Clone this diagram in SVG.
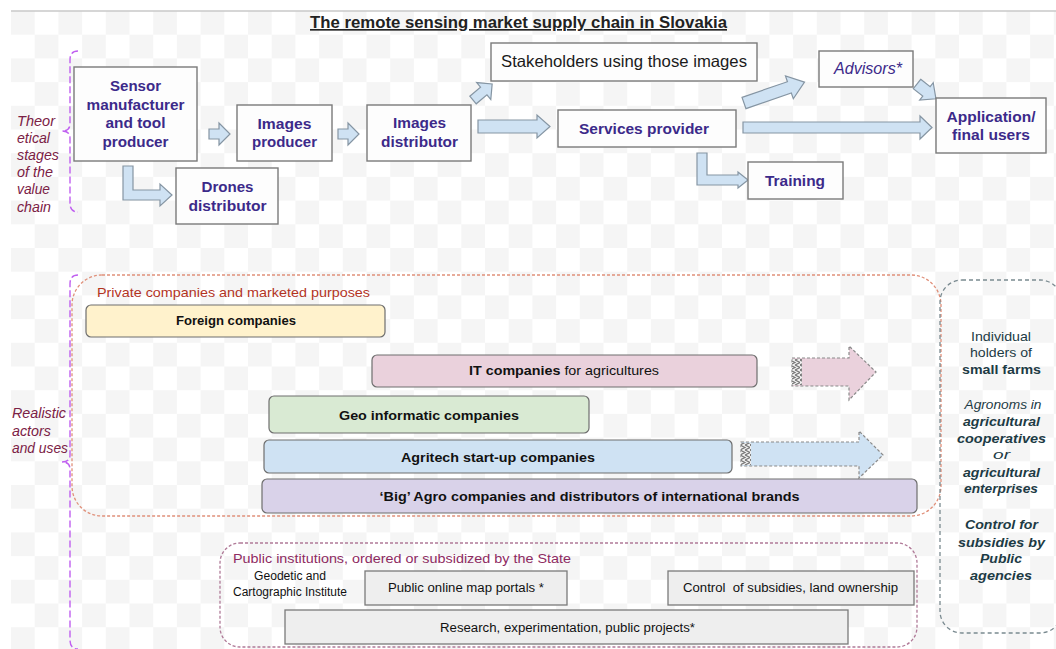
<svg xmlns="http://www.w3.org/2000/svg" width="1056" height="649" viewBox="0 0 1056 649">
<style>
text{font-family:"Liberation Sans",Arial,sans-serif}
.box{fill:#fdfdfd;stroke:#7a7a7a;stroke-width:1.4}
.bt{font-weight:bold;font-size:15.5px;fill:#3c2a8a;text-anchor:middle}
.arr{fill:#cfe2f3;stroke:#8595a3;stroke-width:1.2;stroke-linejoin:miter}
.bar{stroke:#6e6e6e;stroke-width:1.2}
.barT{font-weight:bold;font-size:13px;fill:#111;text-anchor:middle}
.pb{fill:#eeeeee;stroke:#7a7a7a;stroke-width:1.3}
.pt{font-size:12px;fill:#111;text-anchor:middle}
.rt{font-size:13px;fill:#1d3b45;text-anchor:middle}
.lt{font-size:15px;font-style:italic;fill:#7b2145}
.brace{fill:none;stroke:#c060f0;stroke-width:1.4;stroke-dasharray:7,3}
.darr{stroke:#8a8a8a;stroke-width:1.2;stroke-dasharray:3,2}
</style>
<defs>
<pattern id="chk" x="11" y="11" width="47.4" height="47.4" patternUnits="userSpaceOnUse">
<rect width="47.4" height="47.4" fill="#ffffff"/>
<rect width="23.7" height="23.7" fill="#f5f5f5"/>
<rect x="23.7" y="23.7" width="23.7" height="23.7" fill="#f5f5f5"/>
</pattern>
<pattern id="hatch" width="10" height="5" patternUnits="userSpaceOnUse">
<rect width="10" height="5" fill="#f0f0f0"/>
<path d="M0,0 L5,2.5 L0,5 M5,0 L10,2.5 L5,5" fill="none" stroke="#777" stroke-width="1.2"/>
</pattern>
</defs>
<rect width="1056" height="649" fill="#ffffff"/>
<rect x="11" y="11" width="1045" height="638" fill="url(#chk)"/>
<line x1="11" y1="11" x2="1056" y2="11" stroke="#c8c8c8" stroke-width="1.5"/>

<text x="518.5" y="28" font-size="16.5" font-weight="bold" text-anchor="middle" fill="#222" text-decoration="underline" textLength="417" lengthAdjust="spacingAndGlyphs">The remote sensing market supply chain in Slovakia</text>

<!-- braces and side labels -->
<g id="label-theoretical">
<path class="brace" d="M78,51 Q70,51 70,60 L70,124 Q70,131 62,131 Q70,131 70,138 L70,203 Q70,212 78,212"/>
<text class="lt" x="17" y="126" textLength="38" lengthAdjust="spacingAndGlyphs">Theor</text>
<text class="lt" x="17" y="143" textLength="33" lengthAdjust="spacingAndGlyphs">etical</text>
<text class="lt" x="17" y="160" textLength="42" lengthAdjust="spacingAndGlyphs">stages</text>
<text class="lt" x="17" y="177" textLength="36" lengthAdjust="spacingAndGlyphs">of the</text>
<text class="lt" x="17" y="194" textLength="33" lengthAdjust="spacingAndGlyphs">value</text>
<text class="lt" x="17" y="212" textLength="34" lengthAdjust="spacingAndGlyphs">chain</text>
</g>
<g id="label-realistic">
<path class="brace" d="M78,275 Q70,275 70,284 L70,455 Q70,462 62,462 Q70,462 70,469 L70,640 Q70,649 78,649"/>
<text class="lt" x="12" y="418" font-size="14.5" fill="#7a2a5a" textLength="54" lengthAdjust="spacingAndGlyphs">Realistic</text>
<text class="lt" x="12" y="436" font-size="14.5" fill="#7a2a5a" textLength="39" lengthAdjust="spacingAndGlyphs">actors</text>
<text class="lt" x="12" y="453" font-size="14.5" fill="#7a2a5a" textLength="56" lengthAdjust="spacingAndGlyphs">and uses</text>
</g>

<!-- connectors -->
<g id="connectors">
<path class="arr" d="M209,129 L219,129 L219,123 L230,134 L219,145 L219,139 L209,139 Z"/>
<path class="arr" d="M338,129 L348,129 L348,123 L359,134 L348,145 L348,139 L338,139 Z"/>
<path class="arr" d="M123,166 L133,166 L133,190 L160,190 L160,184 L172,195 L160,206 L160,200 L123,200 Z"/>
<path class="arr" d="M478,120 L537,120 L537,115 L550,126.5 L537,138 L537,133 L478,133 Z"/>
<path class="arr" transform="translate(473,100) rotate(-40)" d="M0,-5 L14,-5 L14,-11 L25,0 L14,11 L14,5 L0,5 Z"/>
<path class="arr" transform="translate(744,103) rotate(-19)" d="M0,-6 L48,-6 L48,-12 L64,0 L48,12 L48,6 L0,6 Z"/>
<path class="arr" d="M743,122 L920,122 L920,116 L932,127.5 L920,139 L920,133 L743,133 Z"/>
<path class="arr" transform="translate(917,84) rotate(38)" d="M0,-6 L12,-6 L12,-11 L24,0 L12,11 L12,6 L0,6 Z"/>
<path class="arr" d="M697,153 L707,153 L707,175 L738,175 L738,172 L748,180 L738,188 L738,185 L697,185 Z"/>
<path class="darr" fill="#ead1dc" d="M792,358 L849,358 L849,346 L876,372 L849,400 L849,386 L792,386 Z"/>
<rect x="792" y="359" width="10" height="26" fill="url(#hatch)"/>
<path class="darr" fill="#cfe2f3" d="M741,442 L859,442 L859,431 L883,455 L859,478 L859,466 L741,466 Z"/>
<rect x="741" y="443" width="10" height="22" fill="url(#hatch)"/>
</g>

<!-- top nodes -->
<g id="sensor">
<rect class="box" x="74" y="67" width="123" height="94"/>
<text class="bt" x="135.5" y="91" textLength="51" lengthAdjust="spacingAndGlyphs">Sensor</text>
<text class="bt" x="135.5" y="110" textLength="98" lengthAdjust="spacingAndGlyphs">manufacturer</text>
<text class="bt" x="135.5" y="128" textLength="60" lengthAdjust="spacingAndGlyphs">and tool</text>
<text class="bt" x="135.5" y="147" textLength="66" lengthAdjust="spacingAndGlyphs">producer</text>
</g>
<g id="images-producer">
<rect class="box" x="237" y="105" width="95" height="56"/>
<text class="bt" x="284.5" y="129" textLength="54" lengthAdjust="spacingAndGlyphs">Images</text>
<text class="bt" x="284.5" y="147" textLength="65" lengthAdjust="spacingAndGlyphs">producer</text>
</g>
<g id="drones">
<rect class="box" x="176" y="168" width="102" height="56"/>
<text class="bt" x="227.5" y="192" textLength="52" lengthAdjust="spacingAndGlyphs">Drones</text>
<text class="bt" x="227.5" y="211" textLength="78" lengthAdjust="spacingAndGlyphs">distributor</text>
</g>
<g id="images-distributor">
<rect class="box" x="367" y="105" width="104" height="56"/>
<text class="bt" x="419.5" y="128" textLength="53" lengthAdjust="spacingAndGlyphs">Images</text>
<text class="bt" x="419.5" y="147" textLength="77" lengthAdjust="spacingAndGlyphs">distributor</text>
</g>
<g id="stakeholders">
<rect class="box" x="491" y="43" width="266" height="38"/>
<text x="624" y="67" font-size="16.5" fill="#1a1a1a" text-anchor="middle" textLength="246" lengthAdjust="spacingAndGlyphs">Stakeholders using those images</text>
</g>
<g id="services">
<rect class="box" x="558" y="110" width="178" height="37"/>
<text class="bt" x="644" y="134" textLength="130" lengthAdjust="spacingAndGlyphs">Services provider</text>
</g>
<g id="advisors">
<rect class="box" x="819" y="51" width="94" height="36"/>
<text x="868" y="74" font-size="16" font-style="italic" fill="#3c2a8a" text-anchor="middle" textLength="68" lengthAdjust="spacingAndGlyphs">Advisors*</text>
</g>
<g id="application">
<rect class="box" x="936" y="98" width="110" height="55"/>
<text class="bt" x="991" y="122" textLength="89" lengthAdjust="spacingAndGlyphs">Application/</text>
<text class="bt" x="991" y="140" textLength="78" lengthAdjust="spacingAndGlyphs">final users</text>
</g>
<g id="training">
<rect class="box" x="748" y="162" width="95" height="37"/>
<text class="bt" x="795" y="186" textLength="60" lengthAdjust="spacingAndGlyphs">Training</text>
</g>

<!-- private companies -->
<g id="private">
<rect x="72" y="275" width="869" height="241" rx="30" fill="none" stroke="#e0907a" stroke-width="1.3" stroke-dasharray="3,2"/>
<text x="97" y="297" font-size="13.5" fill="#b3341f" textLength="273" lengthAdjust="spacingAndGlyphs">Private companies and marketed purposes</text>
</g>
<g id="foreign">
<rect class="bar" x="86" y="305" width="299" height="32" rx="5" fill="#fff2cc"/>
<text class="barT" x="236" y="325" textLength="120" lengthAdjust="spacingAndGlyphs">Foreign companies</text>
</g>
<g id="it">
<rect class="bar" x="372" y="355" width="385" height="32" rx="5" fill="#ead1dc"/>
<text class="barT" x="564" y="375" textLength="190" lengthAdjust="spacingAndGlyphs"><tspan>IT companies</tspan><tspan font-weight="normal"> for agricultures</tspan></text>
</g>
<g id="geo">
<rect class="bar" x="269" y="396" width="320" height="37" rx="5" fill="#d9ead3"/>
<text class="barT" x="429" y="420" font-size="14" textLength="180" lengthAdjust="spacingAndGlyphs">Geo informatic companies</text>
</g>
<g id="agritech">
<rect class="bar" x="264" y="440" width="468" height="33" rx="5" fill="#cfe2f3"/>
<text class="barT" x="498" y="462" font-size="14" textLength="194" lengthAdjust="spacingAndGlyphs">Agritech start-up companies</text>
</g>
<g id="bigagro">
<rect class="bar" x="262" y="479" width="655" height="34" rx="5" fill="#d9d2e9"/>
<text class="barT" x="589.5" y="501" font-size="14" textLength="420" lengthAdjust="spacingAndGlyphs">‘Big’ Agro companies and distributors of international brands</text>
</g>

<!-- public institutions -->
<g id="public">
<rect x="220" y="543" width="697" height="104" rx="20" fill="none" stroke="#b07a98" stroke-width="1.3" stroke-dasharray="3,2"/>
<text x="233" y="563" font-size="13.5" fill="#8e2b62" textLength="338" lengthAdjust="spacingAndGlyphs">Public institutions, ordered or subsidized by the State</text>
<text class="pt" x="290" y="580" font-size="11" textLength="72" lengthAdjust="spacingAndGlyphs">Geodetic and</text>
<text class="pt" x="290" y="596" font-size="11" textLength="114" lengthAdjust="spacingAndGlyphs">Cartographic Institute</text>
</g>
<g id="portals">
<rect class="pb" x="365" y="571" width="202" height="34"/>
<text class="pt" x="466" y="592" fill="#1d3b45" textLength="156" lengthAdjust="spacingAndGlyphs">Public online map portals *</text>
</g>
<g id="control">
<rect class="pb" x="668" y="571" width="246" height="34"/>
<text class="pt" x="790.5" y="592" textLength="215" lengthAdjust="spacingAndGlyphs" xml:space="preserve">Control  of subsidies, land ownership</text>
</g>
<g id="research">
<rect class="pb" x="285" y="610" width="563" height="34"/>
<text class="pt" x="567.5" y="632" textLength="255" lengthAdjust="spacingAndGlyphs">Research, experimentation, public projects*</text>
</g>

<!-- final users panel -->
<g id="users">
<rect x="940" y="280" width="122" height="353" rx="22" fill="none" stroke="#7a8a90" stroke-width="1.3" stroke-dasharray="4,3"/>
<text class="rt" x="1001" y="341" textLength="60" lengthAdjust="spacingAndGlyphs">Individual</text>
<text class="rt" x="1001" y="357" textLength="62" lengthAdjust="spacingAndGlyphs">holders of</text>
<text class="rt" x="1001.5" y="374" font-weight="bold" textLength="79" lengthAdjust="spacingAndGlyphs">small farms</text>
<text class="rt" x="1003" y="409" font-style="italic" textLength="77" lengthAdjust="spacingAndGlyphs">Agronoms in</text>
<text class="rt" x="1001.5" y="426" font-style="italic" font-weight="bold" textLength="77" lengthAdjust="spacingAndGlyphs">agricultural</text>
<text class="rt" x="1001.5" y="443" font-style="italic" font-weight="bold" textLength="89" lengthAdjust="spacingAndGlyphs">cooperatives</text>
<text class="rt" x="1001.5" y="459" font-style="italic" textLength="17" lengthAdjust="spacingAndGlyphs">or</text>
<text class="rt" x="1001.5" y="477" font-style="italic" font-weight="bold" textLength="77" lengthAdjust="spacingAndGlyphs">agricultural</text>
<text class="rt" x="1001" y="493" font-style="italic" font-weight="bold" textLength="74" lengthAdjust="spacingAndGlyphs">enterprises</text>
<text class="rt" x="1001.5" y="529" font-style="italic" font-weight="bold" textLength="73" lengthAdjust="spacingAndGlyphs">Control for</text>
<text class="rt" x="1001.5" y="547" font-style="italic" font-weight="bold" textLength="87" lengthAdjust="spacingAndGlyphs">subsidies by</text>
<text class="rt" x="1001" y="563" font-style="italic" font-weight="bold" textLength="42" lengthAdjust="spacingAndGlyphs">Public</text>
<text class="rt" x="1001" y="580" font-style="italic" font-weight="bold" textLength="62" lengthAdjust="spacingAndGlyphs">agencies</text>
</g>
</svg>
